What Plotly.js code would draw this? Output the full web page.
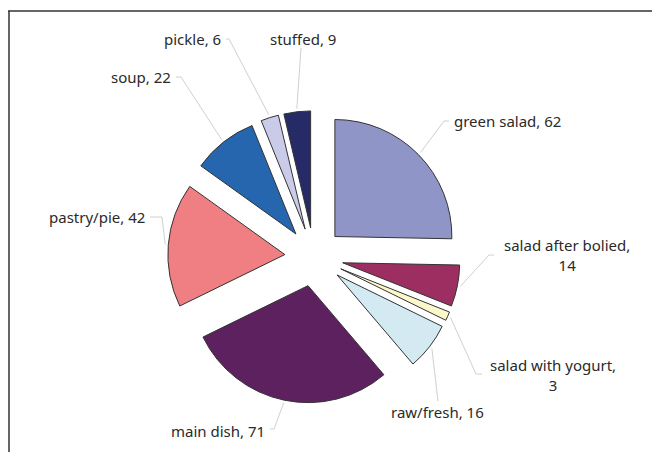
<!DOCTYPE html>
<html>
<head>
<meta charset="utf-8">
<script src="https://cdn.plot.ly/plotly-3.0.1.min.js"></script>
<style>html,body{margin:0;padding:0;background:#fff;}#chart{width:652px;height:452px;}</style>
</head>
<body>
<div id="chart"></div>
<script>
// ---- data ----
const categories = ['green salad', 'salad after bolied', 'salad with yogurt', 'raw/fresh', 'main dish', 'pastry/pie', 'soup', 'pickle', 'stuffed'];
const values = [62, 14, 3, 16, 71, 42, 22, 6, 9];

// ---- styles ----
const colors = ['#9095c8', '#9c2e62', '#fdf8cc', '#d3eaf2', '#5d2160', '#ef7f82', '#2566ae', '#cacbe8', '#262b68'];
const W = 652, H = 452;
const pull = 0.25;
const cx = 314, cy = 257, R = 117;               // pie centre / radius in px
const box = 2 * R * (1 + pull);
// label placement (px): text anchor + leader line end points
const labelPos = [
  {x: 452, y: 121, xa: 'left',   ya: 'middle', wrap: false, line: [[444, 121], [449, 121]]},
  {x: 567, y: 255, xa: 'center', ya: 'middle', wrap: true,  line: [[489, 255], [494, 255]]},
  {x: 553, y: 375, xa: 'center', ya: 'middle', wrap: true,  line: [[476, 374], [482, 374]]},
  {x: 437, y: 412, xa: 'center', ya: 'middle', wrap: false, line: [[438, 401]]},
  {x: 267, y: 431, xa: 'right',  ya: 'middle', wrap: false, line: [[274, 429], [270, 429]]},
  {x: 147, y: 217, xa: 'right',  ya: 'middle', wrap: false, line: [[162, 217], [150, 217]]},
  {x: 173, y: 77,  xa: 'right',  ya: 'middle', wrap: false, line: [[181, 77], [176, 77]]},
  {x: 223, y: 39,  xa: 'right',  ya: 'middle', wrap: false, line: [[229, 39], [226, 39]]},
  {x: 303, y: 39,  xa: 'center', ya: 'middle', wrap: false, line: [[301, 48]]}
];

const px = x => x / W;
const py = y => 1 - y / H;

const total = values.reduce((a, b) => a + b, 0);
let cum = 0;
const shapes = [];
const annotations = [];
values.forEach((v, i) => {
  const mid = (cum + v / 2) / total * 2 * Math.PI;
  cum += v;
  const r0 = R * (1 + pull) + 3;
  const sx = cx + r0 * Math.sin(mid), sy = cy - r0 * Math.cos(mid);
  const lp = labelPos[i];
  let path = 'M ' + px(sx) + ' ' + py(sy);
  lp.line.forEach(p => { path += ' L ' + px(p[0]) + ' ' + py(p[1]); });
  shapes.push({type: 'path', xref: 'paper', yref: 'paper', path: path,
    line: {color: '#d0d0d0', width: 1}});
  annotations.push({
    xref: 'paper', yref: 'paper', x: px(lp.x), y: py(lp.y),
    xanchor: lp.xa, yanchor: lp.ya, showarrow: false, align: 'center',
    text: categories[i] + ',' + (lp.wrap ? '<br>' : ' ') + values[i],
    font: {family: 'Noto Sans, sans-serif', size: 15, color: '#2a2a2a'}
  });
});

// frame (top and left edges)
shapes.push({type: 'line', xref: 'paper', yref: 'paper', x0: px(8), x1: 1, y0: py(11), y1: py(11), line: {color: '#333', width: 1.5}});
shapes.push({type: 'line', xref: 'paper', yref: 'paper', x0: px(9), x1: px(9), y0: py(11), y1: 0, line: {color: '#333', width: 1.5}});

const trace = {
  type: 'pie',
  labels: categories,
  values: values,
  sort: false,
  direction: 'clockwise',
  rotation: 0,
  pull: pull,
  textinfo: 'none',
  hoverinfo: 'none',
  marker: {colors: colors, line: {color: '#333', width: 1}},
  domain: {x: [px(cx - box / 2), px(cx + box / 2)], y: [py(cy + box / 2), py(cy - box / 2)]}
};

const layout = {
  width: W, height: H, autosize: false,
  margin: {l: 0, r: 0, t: 0, b: 0},
  paper_bgcolor: '#fff',
  showlegend: false,
  shapes: shapes,
  annotations: annotations
};

Plotly.newPlot('chart', [trace], layout, {displayModeBar: false, staticPlot: true});
</script>
</body>
</html>
